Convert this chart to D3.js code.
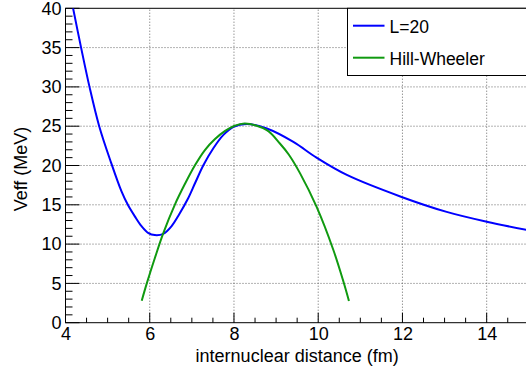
<!DOCTYPE html>
<html>
<head>
<meta charset="utf-8">
<script src="https://cdn.jsdelivr.net/npm/d3@7"></script>
<style>
  html, body { margin: 0; padding: 0; background: #fff; }
  svg { display: block; font-family: "Liberation Sans", Arial, Helvetica, sans-serif; }
</style>
</head>
<body>
<svg id="chart" width="526" height="371"></svg>
<script>
// ---- data ----
const seriesNames = ["L=20", "Hill-Wheeler"];
const l20X = [4.18, 4.37, 4.57, 4.80, 5.08, 5.33, 5.48, 5.65, 5.81, 5.97, 6.12, 6.32, 6.52, 6.70, 6.90, 7.08, 7.27, 7.51, 7.75, 7.99, 8.30, 8.78, 9.41, 9.96, 10.68, 11.98, 13.05, 14.0, 15.0];
const l20Y = [40, 35, 30, 25, 20.4, 16.7, 15.0, 13.5, 12.25, 11.4, 11.15, 11.3, 12.3, 13.8, 15.7, 17.8, 20.0, 22.2, 23.9, 24.93, 25.28, 24.7, 23.0, 21.0, 18.8, 16.0, 14.1, 12.85, 11.75];
const hwX = [5.81, 5.93, 6.12, 6.32, 6.60, 6.84, 7.07, 7.31, 7.55, 7.79, 7.99, 8.26, 8.78, 9.09, 9.30, 9.57, 9.96, 10.36, 10.60, 10.73];
const hwY = [2.8, 5.0, 8.2, 11.37, 15.06, 17.7, 20.0, 21.97, 23.37, 24.4, 25.0, 25.35, 24.5, 22.8, 21.4, 19.0, 14.76, 9.25, 5.2, 2.76];
const xTicks = [4, 6, 8, 10, 12, 14];
const yTicks = [0, 5, 10, 15, 20, 25, 30, 35, 40];
const xTitle = "internuclear distance (fm)";
const yTitle = "Veff (MeV)";

// ---- layout ----
const svg = d3.select("#chart");
const x0 = 65.5, x1 = 528.8, y0 = 322.7, y1 = 8.3;
const x = d3.scaleLinear().domain([4, 15]).range([x0, x1]);
const y = d3.scaleLinear().domain([0, 40]).range([y0, y1]);
const colors = ["#0000ff", "#109a10"];
const font = "Liberation Sans, Arial, sans-serif";

// grid
const grid = svg.append("g");
grid.selectAll("line.gx").data(xTicks.filter(d => d > 4)).join("line")
  .attr("x1", d => x(d)).attr("x2", d => x(d)).attr("y1", y0).attr("y2", y1)
  .attr("stroke", "#666").attr("stroke-width", 1).attr("stroke-dasharray", "1,2");
grid.selectAll("line.gy").data(yTicks.filter(d => d > 0 && d < 40)).join("line")
  .attr("x1", x0).attr("x2", x1).attr("y1", d => y(d)).attr("y2", d => y(d))
  .attr("stroke", "#666").attr("stroke-width", 1).attr("stroke-dasharray", "1,2");

// frame
svg.append("rect").attr("x", x0).attr("y", y1).attr("width", x1 - x0).attr("height", y0 - y1)
  .attr("fill", "none").attr("stroke", "#000").attr("stroke-width", 1);

// x axis ticks (inward)
const xMinor = d3.range(4, 15.001, 0.5);
svg.append("g").selectAll("line").data(xMinor).join("line")
  .attr("x1", d => x(d)).attr("x2", d => x(d))
  .attr("y1", y0).attr("y2", d => y0 - (Math.abs(d - Math.round(d / 2) * 2) < 1e-6 ? 10 : 5))
  .attr("stroke", "#000").attr("stroke-width", 1);
const xAxis = d3.axisBottom(x).tickValues(xTicks).tickSize(0).tickPadding(0).tickFormat(d3.format("d"));
const gx = svg.append("g").attr("transform", `translate(0,${y0})`).call(xAxis);
gx.select(".domain").remove();
gx.selectAll("text").attr("font-size", 18).attr("fill", "#000").attr("dy", null).attr("y", 17.5)
  .attr("font-family", font);

// y axis ticks (inward)
const yMinor = d3.range(0, 40.001, 1);
svg.append("g").selectAll("line").data(yMinor).join("line")
  .attr("y1", d => y(d)).attr("y2", d => y(d))
  .attr("x1", x0).attr("x2", d => x0 + (d % 5 === 0 ? 14 : 7))
  .attr("stroke", "#000").attr("stroke-width", 1);
const yAxis = d3.axisLeft(y).tickValues(yTicks).tickSize(0).tickPadding(4).tickFormat(d3.format("d"));
const gy = svg.append("g").attr("transform", `translate(${x0},0)`).call(yAxis);
gy.select(".domain").remove();
gy.selectAll("text").attr("font-size", 18).attr("fill", "#000").attr("font-family", font);

// axis titles
svg.append("text").attr("x", (x0 + x1) / 2).attr("y", 362).attr("text-anchor", "middle")
  .attr("font-size", 18).attr("font-family", font).text(xTitle);
svg.append("text").attr("transform", `translate(27,169) rotate(-90)`).attr("text-anchor", "middle")
  .attr("font-size", 18).attr("font-family", font).text(yTitle);

// curves
svg.append("clipPath").attr("id", "plotclip").append("rect")
  .attr("x", x0).attr("y", y1).attr("width", x1 - x0).attr("height", y0 - y1);
const line = d3.line().x(d => x(d[0])).y(d => y(d[1])).curve(d3.curveCatmullRom.alpha(0.5));
const seriesData = [d3.zip(l20X, l20Y), d3.zip(hwX, hwY)];
svg.append("g").attr("clip-path", "url(#plotclip)").selectAll("path").data(seriesData).join("path")
  .attr("d", line).attr("fill", "none")
  .attr("stroke", (d, i) => colors[i]).attr("stroke-width", 2).attr("stroke-linejoin", "round");

// legend
const lg = svg.append("g");
lg.append("rect").attr("x", 347.5).attr("y", y1).attr("width", 190).attr("height", 75.5 - y1)
  .attr("fill", "#fff").attr("stroke", "#000").attr("stroke-width", 1);
const items = lg.selectAll("g.item").data(seriesNames).join("g").attr("class", "item")
  .attr("transform", (d, i) => `translate(0,${[25.7, 57.7][i]})`);
items.append("line").attr("x1", 353).attr("x2", 384.5).attr("y1", 0).attr("y2", 0)
  .attr("stroke", (d, i) => colors[i]).attr("stroke-width", 2);
items.append("text").attr("x", 389.5).attr("y", 7.5).attr("font-size", 17.5)
  .attr("font-family", font).text(d => d);
</script>
</body>
</html>
